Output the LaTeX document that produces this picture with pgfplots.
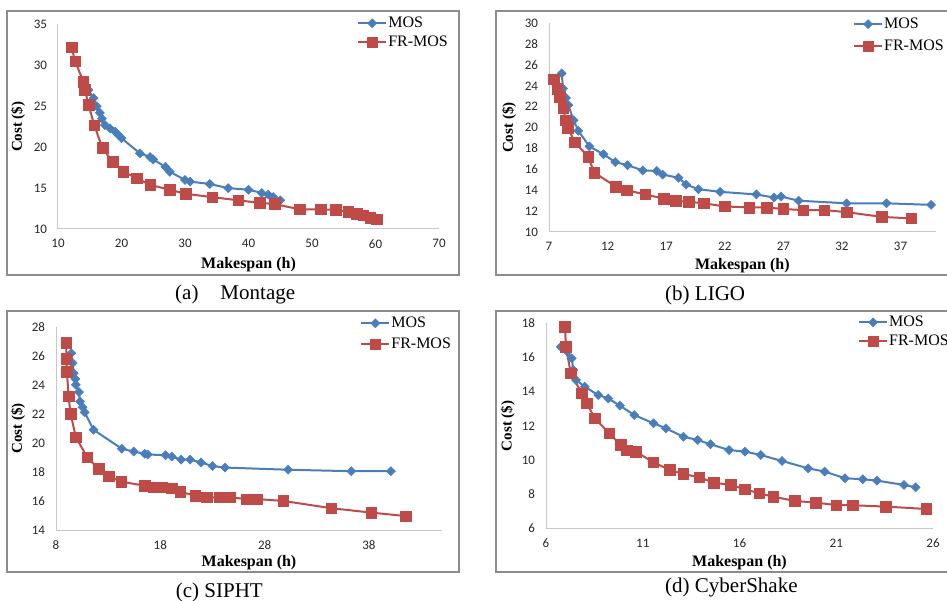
\documentclass[border=0pt]{standalone}
\usepackage{fontspec}
\setmainfont{Liberation Serif}
\newfontfamily\carlito{Carlito}
\usepackage{pgfplots}
\pgfplotsset{compat=1.18}
\definecolor{mosblue}{RGB}{74,126,187}
\definecolor{frred}{RGB}{190,75,72}
\definecolor{framegray}{RGB}{140,140,140}
\definecolor{axgray}{RGB}{200,200,200}
\pgfplotsset{
  panel/.style={
    scale only axis,
    axis x line*=bottom, axis y line*=left,
    axis line style={axgray, line width=1pt, -},
    major tick length=0pt,
    tick label style={font=\carlito\fontsize{13}{13}\selectfont, text=black!85},
    /pgf/number format/assume math mode=true,
    xticklabel style={yshift=-7pt},
    yticklabel style={xshift=-7.5pt},
    xlabel style={font=\bfseries\fontsize{16}{16}\selectfont, at={(axis description cs:0.5,0)}, anchor=center},
    ylabel style={font=\bfseries\fontsize{15}{15}\selectfont, at={(axis description cs:0,0.5)}, anchor=center},
    xlabel={Makespan (h)}, ylabel={Cost (\$)},
    clip=false,
    legend image code/.code={\draw[mark repeat=2,mark phase=2,##1] plot coordinates {(0pt,0pt) (14pt,0pt) (28pt,0pt)};},
    legend style={draw=none, fill=none, inner sep=0pt, font=\fontsize{16}{16}\selectfont,
      nodes={inner sep=1pt, text height=11pt, text depth=3pt}, row sep=3pt, anchor=north west},
    legend cell align=left,
  },
  mos/.style={color=mosblue, line width=2pt, mark=square*, mark size=3.2pt,
    mark options={rotate=45, fill=mosblue, draw=mosblue, line width=0.5pt}},
  fr/.style={color=frred, line width=2pt, mark=square*, mark size=5.3pt,
    mark options={fill=frred, draw=frred, line width=0.5pt}},
}
\begin{document}
\begin{tikzpicture}
% frames
\draw[framegray, line width=1.2pt] (7pt,-11pt) rectangle (459pt,-275pt);
\draw[framegray, line width=1.2pt] (950pt,-11pt) -- (496pt,-11pt) -- (496pt,-275pt) -- (950pt,-275pt);
\draw[framegray, line width=1.2pt] (7pt,-311pt) rectangle (459pt,-572pt);
\draw[framegray, line width=1.2pt] (950pt,-311pt) -- (496pt,-311pt) -- (496pt,-572pt) -- (950pt,-572pt);

% (a) Montage
\begin{axis}[panel, at={(58pt,-229pt)}, anchor=south west, width=381pt, height=204.5pt,
  xmin=10, xmax=70, ymin=10, ymax=35, xtick={10,20,...,70}, ytick={10,15,...,35},
  xlabel style={yshift=-36pt}, ylabel style={yshift=40pt},
  legend style={at={(axis description cs:0.785,1.046)}}]
\addplot[mos] coordinates {(14.8,27.0)(15.6,26.0)(16.1,25.0)(16.6,24.2)(16.9,23.5)(17.4,22.7)(18.2,22.3)(19.0,21.9)(19.5,21.5)(20.0,21.1)(22.9,19.25)(24.5,18.8)(25.0,18.5)(26.9,17.6)(27.6,17.0)(30.0,16.0)(30.8,15.8)(33.9,15.5)(36.8,15.0)(40.0,14.8)(42.1,14.4)(43.1,14.2)(43.9,13.9)(45.0,13.5)};
\addlegendentry{MOS}
\addplot[fr] coordinates {(12.15,32.2)(12.7,30.5)(14.0,28.0)(14.25,27.0)(14.8,25.2)(15.7,22.7)(17.0,19.9)(18.6,18.2)(20.3,17.0)(22.4,16.2)(24.5,15.4)(27.6,14.8)(30.1,14.3)(34.3,13.9)(38.4,13.5)(41.8,13.2)(44.1,13.05)(48.1,12.4)(51.4,12.4)(53.7,12.35)(55.7,12.1)(57.0,11.9)(58.1,11.7)(59.2,11.4)(60.2,11.2)};
\addlegendentry{FR-MOS}
\end{axis}

% (b) LIGO
\begin{axis}[panel, at={(549pt,-232pt)}, anchor=south west, width=386.7pt, height=208.7pt,
  xmin=7, xmax=40, ymin=10, ymax=30, xtick={7,12,...,37}, ytick={10,12,...,30},
  xlabel style={yshift=-34pt}, ylabel style={yshift=40pt},
  legend style={at={(axis description cs:0.786,1.035)}, row sep=6pt}]
\addplot[mos] coordinates {(8.08,25.2)(8.2,23.75)(8.45,22.85)(8.65,22.15)(9.1,20.7)(9.5,19.7)(10.45,18.2)(11.65,17.45)(12.65,16.7)(13.7,16.4)(15.0,15.9)(16.2,15.85)(16.7,15.5)(18.05,15.2)(18.7,14.55)(19.75,14.1)(21.6,13.85)(24.7,13.6)(26.2,13.3)(26.8,13.4)(28.3,13.0)(32.4,12.75)(35.8,12.75)(39.6,12.6)};
\addlegendentry{MOS}
\addplot[fr] coordinates {(7.4,24.65)(7.7,23.75)(7.9,22.95)(8.2,21.85)(8.45,20.7)(8.6,20.0)(9.2,18.6)(10.35,17.2)(10.85,15.7)(12.7,14.35)(13.65,14.0)(15.2,13.6)(16.8,13.2)(17.8,13.0)(18.9,12.9)(20.2,12.75)(22.0,12.45)(24.1,12.35)(25.6,12.35)(27.0,12.2)(28.7,12.1)(30.5,12.1)(32.4,11.9)(35.4,11.45)(37.9,11.3)};
\addlegendentry{FR-MOS}
\end{axis}

% (c) SIPHT
\begin{axis}[panel, at={(56pt,-530pt)}, anchor=south west, width=386pt, height=203.3pt,
  xmin=8, xmax=45, ymin=14, ymax=28, xtick={8,18,28,38}, ytick={14,16,...,28},
  xlabel style={yshift=-32.7pt}, ylabel style={yshift=38pt},
  legend style={at={(axis description cs:0.788,1.057)}, row sep=5pt}]
\addplot[mos] coordinates {(9.47,26.17)(9.6,25.5)(9.7,24.8)(9.85,24.4)(9.9,24.0)(10.2,23.5)(10.3,22.85)(10.55,22.45)(10.75,22.1)(11.6,20.9)(14.3,19.6)(15.45,19.4)(16.5,19.25)(16.8,19.2)(18.5,19.15)(19.1,19.05)(20.0,18.85)(20.85,18.85)(21.9,18.65)(23.0,18.4)(24.2,18.3)(30.25,18.15)(36.3,18.05)(40.1,18.05)};
\addlegendentry{MOS}
\addplot[fr] coordinates {(9.0,26.9)(9.0,25.8)(9.05,24.9)(9.2,23.2)(9.4,22.0)(9.9,20.4)(11.0,19.0)(12.1,18.2)(13.05,17.7)(14.25,17.33)(16.5,17.05)(17.35,16.94)(18.15,16.94)(19.1,16.87)(19.9,16.64)(21.35,16.36)(22.45,16.25)(23.7,16.25)(24.7,16.25)(26.3,16.13)(27.3,16.13)(29.8,16.0)(34.4,15.5)(38.2,15.2)(41.5,14.96)};
\addlegendentry{FR-MOS}
\end{axis}

% (d) CyberShake
\begin{axis}[panel, at={(546pt,-528.3pt)}, anchor=south west, width=387pt, height=205pt,
  xmin=6, xmax=26, ymin=6, ymax=18, xtick={6,11,...,26}, ytick={6,8,...,18},
  xlabel style={yshift=-34.4pt}, ylabel style={yshift=38.3pt},
  legend style={at={(axis description cs:0.806,1.045)}}]
\addplot[mos] coordinates {(6.76,16.63)(7.1,16.34)(7.33,15.95)(7.41,15.27)(7.55,14.68)(8.0,14.29)(8.7,13.8)(9.22,13.6)(9.82,13.18)(10.56,12.63)(11.55,12.15)(12.2,11.85)(13.1,11.36)(13.84,11.17)(14.5,10.92)(15.46,10.58)(16.28,10.49)(17.1,10.29)(18.2,9.94)(19.55,9.51)(20.4,9.32)(21.45,8.93)(22.37,8.87)(23.1,8.79)(24.5,8.54)(25.1,8.4)};
\addlegendentry{MOS}
\addplot[fr] coordinates {(6.98,17.8)(7.03,16.63)(7.28,15.07)(7.85,13.9)(8.1,13.32)(8.53,12.44)(9.26,11.56)(9.86,10.88)(10.17,10.58)(10.64,10.49)(11.55,9.86)(12.41,9.41)(13.1,9.18)(13.92,8.98)(14.68,8.67)(15.55,8.54)(16.28,8.28)(17.02,8.05)(17.75,7.85)(18.87,7.6)(19.95,7.5)(21.0,7.36)(21.85,7.35)(23.57,7.27)(25.66,7.13)};
\addlegendentry{FR-MOS}
\end{axis}

% captions
\node[anchor=base west, font=\fontsize{21}{21}\selectfont, inner sep=0pt] at (175pt,-300pt) {(a)\hspace{22pt}Montage};
\node[anchor=base west, font=\fontsize{21}{21}\selectfont, inner sep=0pt] at (665pt,-300.5pt) {(b) LIGO};
\node[anchor=base west, font=\fontsize{21}{21}\selectfont, inner sep=0pt] at (175.7pt,-597.7pt) {(c) SIPHT};
\node[anchor=base west, font=\fontsize{21}{21}\selectfont, inner sep=0pt] at (665pt,-592.7pt) {(d) CyberShake};

\pgfresetboundingbox
\useasboundingbox (0pt,0pt) rectangle (947pt,-601pt);
\end{tikzpicture}
\end{document}
